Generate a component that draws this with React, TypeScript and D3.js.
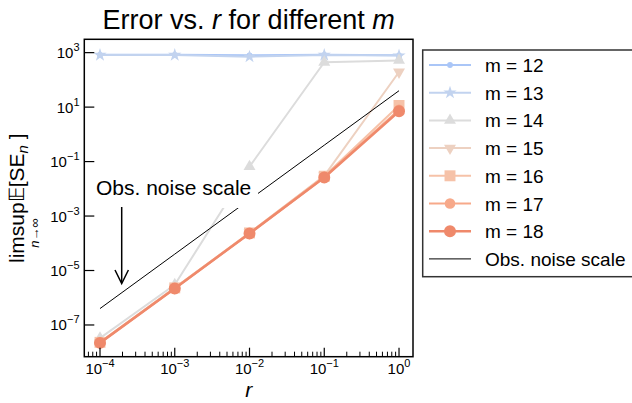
import React from "react";
import * as d3 from "d3";

const rValues = [1e-4, 1e-3, 1e-2, 1e-1, 1];
const m12 = [830, 830, 800, 830, 800];
const m13 = [820, 820, 710, 820, 780];
const m14 = [3.3e-8, 3.0e-6, 0.065, 445, 520];
const m15 = [2.3e-8, 2.3e-6, 2.4e-4, 0.03, 195];
const m16 = [2.3e-8, 2.3e-6, 2.4e-4, 0.029, 11.5];
const m17 = [2.2e-8, 2.2e-6, 2.3e-4, 0.027, 8];
const m18 = [2.2e-8, 2.2e-6, 2.3e-4, 0.026, 7];
const noiseScale = [4e-7, 4e-5, 4e-3, 4e-1, 40];
const seriesLabels = ["m = 12", "m = 13", "m = 14", "m = 15", "m = 16", "m = 17", "m = 18"];
const xTickExps = [-4, -3, -2, -1, 0];
const yTickExps = [3, 1, -1, -3, -5, -7];

const FONT = "'Liberation Sans', Arial, Helvetica, sans-serif";

const styles = [
  { color: "#aac6f7", sym: d3.symbolCircle, size: 26, rot: 0, lw: 2 },
  { color: "#c2d3ef", sym: d3.symbolStar, size: 55, rot: 0, lw: 2 },
  { color: "#dcdcdc", sym: d3.symbolTriangle, size: 62, rot: 0, lw: 2 },
  { color: "#edd1c1", sym: d3.symbolTriangle, size: 62, rot: 180, lw: 2 },
  { color: "#f6c2a8", sym: d3.symbolSquare, size: 120, rot: 0, lw: 2 },
  { color: "#f7a98a", sym: d3.symbolCircle, size: 88, rot: 0, lw: 2.2 },
  { color: "#ef896b", sym: d3.symbolCircle, size: 113, rot: 0, lw: 2.5 },
];
const seriesValues = [m12, m13, m14, m15, m16, m17, m18];

const L = 84.3, R = 413, T = 39.3, B = 356.7;

export default function App() {
  const x = d3.scaleLog().domain([Math.pow(10, -4.21), Math.pow(10, 0.187)]).range([L, R]);
  const y = d3.scaleLog().domain([Math.pow(10, -8.165), Math.pow(10, 3.49)]).range([B, T]);
  const line = d3.line<number[]>().x((d) => x(d[0])).y((d) => y(d[1]));

  const minorTicks: number[] = [];
  for (let e = -5; e <= 0; e++) {
    for (let k = 2; k <= 9; k++) {
      const v = k * Math.pow(10, e);
      const lv = Math.log10(v);
      if (lv >= -4.21 && lv <= 0.187) minorTicks.push(v);
    }
  }

  const legendRowY = (i: number) => 65 + i * 27.7;

  return (
    <svg width={632} height={403} style={{ position: "absolute", left: 0, top: 0, background: "#fff" }} fontFamily={FONT}>
      <rect x={0} y={0} width={632} height={403} fill="#fff" />
      {/* title */}
      <text x={(L + R) / 2} y={28.5} textAnchor="middle" fontSize={27} fill="#000">
        Error vs. <tspan fontStyle="italic">r</tspan> for different <tspan fontStyle="italic">m</tspan>
      </text>

      {/* series */}
      {seriesValues.map((vals, i) => {
        const st = styles[i];
        const pts = rValues.map((r, j) => [r, vals[j]]);
        return (
          <g key={i}>
            <path d={line(pts) || ""} fill="none" stroke={st.color} strokeWidth={st.lw} strokeLinejoin="round" />
            {pts.map((p, j) => (
              <path
                key={j}
                d={d3.symbol().type(st.sym).size(st.size)() || ""}
                transform={`translate(${x(p[0])},${y(p[1])}) rotate(${st.rot})`}
                fill={st.color}
              />
            ))}
          </g>
        );
      })}

      {/* noise scale line */}
      <path d={line(rValues.map((r, j) => [r, noiseScale[j]])) || ""} fill="none" stroke="#000" strokeWidth={1} />

      {/* annotation */}
      <rect x={90} y={170} width={168} height={38} fill="#fff" />
      <text x={96} y={195} fontSize={21} fill="#000">Obs. noise scale</text>
      <line x1={121.7} y1={207} x2={121.7} y2={283} stroke="#000" strokeWidth={1.5} />
      <path d="M115,270 L121.7,283.5 L128.4,270" fill="none" stroke="#000" strokeWidth={1.5} />

      {/* axes frame */}
      <rect x={L} y={T} width={R - L} height={B - T} fill="none" stroke="#000" strokeWidth={1.5} />

      {/* x ticks */}
      {minorTicks.map((v, i) => (
        <line key={"mn" + i} x1={x(v)} x2={x(v)} y1={B} y2={B - 5} stroke="#000" strokeWidth={1} />
      ))}
      {xTickExps.map((e) => {
        const px = x(Math.pow(10, e));
        return (
          <g key={"xt" + e}>
            <line x1={px} x2={px} y1={B} y2={B - 9} stroke="#000" strokeWidth={1.2} />
            <text x={px} y={374} textAnchor="middle" fontSize={15} fill="#000">
              10<tspan dy={-7} fontSize={11}>{e < 0 ? "\u2212" + Math.abs(e) : String(e)}</tspan>
            </text>
          </g>
        );
      })}

      {/* y ticks */}
      {yTickExps.map((e) => {
        const py = y(Math.pow(10, e));
        return (
          <g key={"yt" + e}>
            <line x1={L} x2={L + 10} y1={py} y2={py} stroke="#000" strokeWidth={1.2} />
            <text x={79.5} y={py + 5.5} textAnchor="end" fontSize={15} fill="#000">
              10<tspan dy={-7} fontSize={11}>{e < 0 ? "\u2212" + Math.abs(e) : String(e)}</tspan>
            </text>
          </g>
        );
      })}

      {/* axis labels */}
      <text x={(L + R) / 2} y={397} textAnchor="middle" fontSize={21} fontStyle="italic" fill="#000">r</text>
      <g transform="translate(24,263) rotate(-90)">
        <text x={0} y={0} fontSize={21} fill="#000">
          limsup<tspan>𝔼</tspan>[SE<tspan fontStyle="italic" fontSize={15} dy={4}>n</tspan>
          <tspan dy={-4}> ]</tspan>
        </text>
        <text x={30} y={15} textAnchor="middle" fontSize={13} fill="#000">
          <tspan fontStyle="italic">n</tspan>→∞
        </text>
      </g>

      {/* legend */}
      <rect x={422.7} y={50} width={230} height={226.7} fill="#fff" stroke="#333" strokeWidth={1.5} />
      {seriesLabels.map((lab, i) => {
        const st = styles[i];
        const cy = legendRowY(i);
        return (
          <g key={"lg" + i}>
            <line x1={429} x2={471} y1={cy} y2={cy} stroke={st.color} strokeWidth={st.lw} />
            <path d={d3.symbol().type(st.sym).size(st.size)() || ""} transform={`translate(450,${cy}) rotate(${st.rot})`} fill={st.color} />
            <text x={485} y={cy + 7} fontSize={19} fill="#000">{lab}</text>
          </g>
        );
      })}
      <line x1={429} x2={471} y1={legendRowY(7)} y2={legendRowY(7)} stroke="#000" strokeWidth={1} />
      <text x={485} y={legendRowY(7) + 7} fontSize={19} fill="#000">Obs. noise scale</text>
    </svg>
  );
}
